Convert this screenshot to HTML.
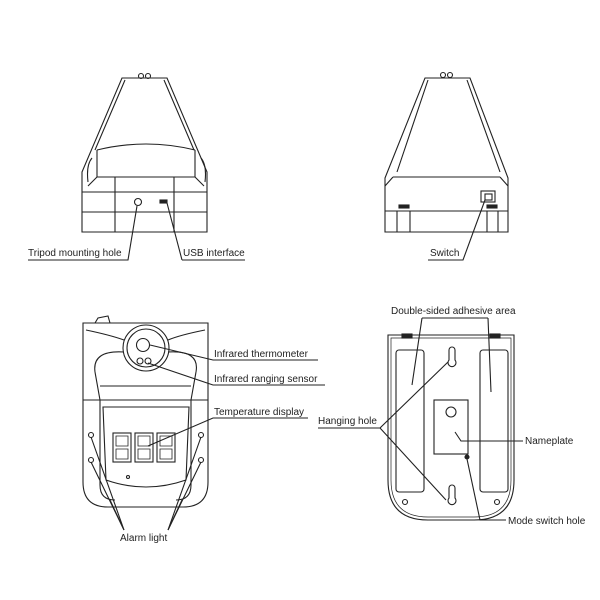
<!DOCTYPE html>
<html><head><meta charset="utf-8"><style>html,body{margin:0;padding:0;background:#fff}svg{display:block}text{font-family:"Liberation Sans",sans-serif;font-size:10px;fill:#222}</style></head>
<body>
<svg width="600" height="600" viewBox="0 0 600 600" xmlns="http://www.w3.org/2000/svg">
<g fill="none" stroke="#222" stroke-width="1.1">
<!-- TOP LEFT -->
<path d="M122,78 L167,78 L207,172 L207,232 L82,232 L82,172 Z"/>
<path d="M125,80 L95,150 M164,80 L194,150"/>
<circle cx="141" cy="76" r="2.5"/><circle cx="148" cy="76" r="2.5"/>
<path d="M97,150 Q146,138 195,150"/>
<path d="M97,150 L97,177 M195,150 L195,177"/>
<path d="M92,158 Q86,165 88,182 M201,158 Q207,165 205,182"/>
<path d="M82,192 L207,192 M82,212 L207,212 M97,177 L195,177 M97,177 L88,186 M195,177 L204,186"/>
<path d="M115,177 L115,232 M174,177 L174,232"/>
<circle cx="138" cy="202" r="3.5"/>
<rect x="160" y="200" width="7" height="3" fill="#222"/>
<path d="M28,260 L128,260 L137,206"/>
<path d="M182,260 L245,260 M182,260 L167,203"/>
<!-- TOP RIGHT -->
<path d="M425,78 L470,78 L508,178 L508,232 L385,232 L385,178 Z"/>
<path d="M428,80 L397,172 M467,80 L500,172"/>
<circle cx="443" cy="75" r="2.5"/><circle cx="450" cy="75" r="2.5"/>
<path d="M393,177 L500,177 M385,186 L393,177 M508,186 L500,177"/>
<path d="M385,211 L508,211 M397,211 L397,232 M410,211 L410,232 M487,211 L487,232 M498,211 L498,232"/>
<rect x="399" y="205" width="10" height="3" fill="#222"/>
<rect x="481" y="191" width="14" height="11"/><rect x="485" y="194" width="7" height="6"/>
<rect x="487" y="205" width="10" height="3" fill="#222"/>
<path d="M428,260 L463,260 L485,200"/>
<!-- BOTTOM LEFT -->
<path d="M83,323 L208,323 L208,482 Q208,507 183,507 L108,507 Q83,507 83,482 Z"/>
<path d="M95,323 L98,318 L108,316 L110,323"/>
<path d="M86,330 Q110,335 124,340 M205,330 Q180,335 168,340"/>
<path d="M95,372 Q92,350 124,352 M196,372 Q200,350 168,352"/>
<path d="M95,372 L100,400 L100,485 Q100,500 115,500 M196,372 L191,400 L191,485 Q191,500 176,500"/>
<path d="M100,386 L191,386 M83,400 L208,400"/>
<circle cx="146" cy="348" r="23"/><circle cx="146" cy="348" r="19"/>
<circle cx="143" cy="345" r="6.5"/>
<circle cx="140" cy="361" r="3"/><circle cx="148" cy="361" r="3"/>
<path d="M103,407 L189,407 L186,480 Q146,494 106,480 Z"/>
<rect x="113" y="433" width="18" height="29"/><rect x="135" y="433" width="18" height="29"/><rect x="157" y="433" width="18" height="29"/>
<path d="M116,436 h12 v10 h-12 z M116,449 h12 v10 h-12 z M138,436 h12 v10 h-12 z M138,449 h12 v10 h-12 z M160,436 h12 v10 h-12 z M160,449 h12 v10 h-12 z" stroke-width="0.8"/>
<circle cx="128" cy="477" r="1.5"/>
<circle cx="91" cy="435" r="2.5"/><circle cx="91" cy="460" r="2.5"/><circle cx="201" cy="435" r="2.5"/><circle cx="201" cy="460" r="2.5"/>
<path d="M91,437 L124,530 M91,462 L124,530 M201,437 L168,530 M201,462 L168,530"/>
<path d="M110,500 L124,530 M182,500 L168,530"/>
<path d="M150,345 L213,360 L318,360"/>
<path d="M148,363 L213,385 L325,385"/>
<path d="M148,446 L213,418 L308,418"/>
<!-- BOTTOM RIGHT -->
<path d="M388,335 L514,335 L514,480 Q514,520 474,520 L428,520 Q388,520 388,480 Z"/>
<path d="M391,338 L511,338 L511,480 Q511,517 474,517 L428,517 Q391,517 391,480 Z" stroke-width="0.7"/>
<rect x="402" y="334" width="10" height="4" fill="#222"/><rect x="490" y="334" width="10" height="4" fill="#222"/>
<rect x="396" y="350" width="28" height="142" rx="3"/><rect x="480" y="350" width="28" height="142" rx="3"/>
<rect x="434" y="400" width="34" height="54"/>
<circle cx="451" cy="412" r="5"/>
<path d="M449,350 L449,360 A4,4 0 1 0 455,360 L455,350 A3,3 0 0 0 449,350 Z"/>
<path d="M449,488 L449,498 A4,4 0 1 0 455,498 L455,488 A3,3 0 0 0 449,488 Z"/>
<circle cx="405" cy="502" r="2.5"/><circle cx="497" cy="502" r="2.5"/>
<circle cx="467" cy="457" r="2" fill="#222"/>
<path d="M422,318 L488,318 M422,318 L412,385 M488,318 L491,392"/>
<path d="M318,428 L380,428 L448,362 M380,428 L446,500"/>
<path d="M455,432 L461,441 L523,441"/>
<path d="M467,459 L480,520 L506,520"/>
</g>
<text x="28" y="256">Tripod mounting hole</text>
<text x="183" y="256">USB interface</text>
<text x="430" y="256">Switch</text>
<text x="214" y="357">Infrared thermometer</text>
<text x="214" y="382">Infrared ranging sensor</text>
<text x="214" y="415">Temperature display</text>
<text x="120" y="541">Alarm light</text>
<text x="391" y="314">Double-sided adhesive area</text>
<text x="318" y="424">Hanging hole</text>
<text x="525" y="444">Nameplate</text>
<text x="508" y="524">Mode switch hole</text>
</svg>
</body></html>
